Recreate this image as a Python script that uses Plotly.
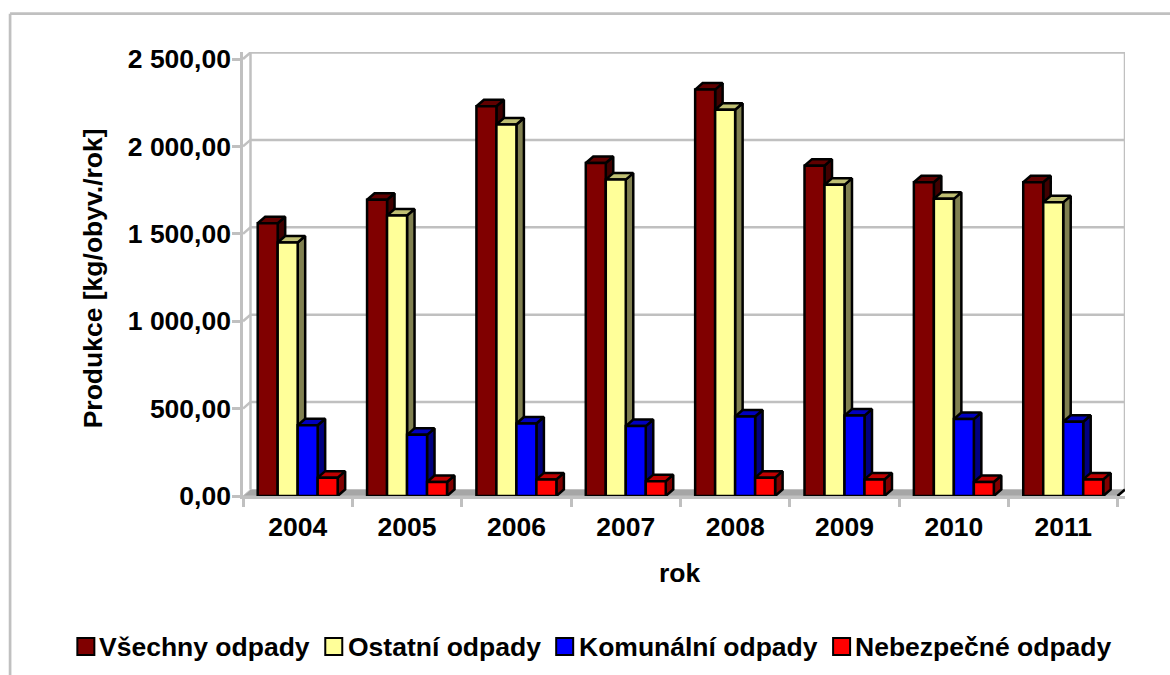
import plotly.graph_objects as go

years = ["2004", "2005", "2006", "2007", "2008", "2009", "2010", "2011"]
series_names = ["Všechny odpady", "Ostatní odpady", "Komunální odpady", "Nebezpečné odpady"]
vsechny = [1560, 1695, 2230, 1905, 2325, 1890, 1795, 1795]
ostatni = [1450, 1605, 2125, 1810, 2210, 1780, 1700, 1680]
komunalni = [405, 350, 415, 400, 455, 460, 440, 425]
nebezpecne = [105, 80, 95, 85, 105, 95, 80, 95]
y_ticks = [0, 500, 1000, 1500, 2000, 2500]
y_labels = ["0,00", "500,00", "1 000,00", "1 500,00", "2 000,00", "2 500,00"]
front_colors = ["#800000", "#FFFF99", "#0000FF", "#FF0000"]
side_colors = ["#400000", "#808050", "#000080", "#800000"]
top_colors = ["#600000", "#BFBF73", "#0000BF", "#BF0000"]

W, H = 1170, 675
L, R, T, B = 242.7, 1125.0, 52.0, 496.0
CAT_PX = 109.4
PX_PER_UNIT = 437.0 / 2500
DX_PX, DY_PX = 7.5, 6.5
BAR_PX = 20.0
FONT_SIZE = 26.5

x_lo = -0.5
x_hi = x_lo + (R - L) / CAT_PX
y_hi = (B - T) / PX_PER_UNIT
dx = DX_PX / CAT_PX
dy = DY_PX / PX_PER_UNIT
bw = BAR_PX / CAT_PX
GRAY = "#C0C0C0"
values = [vsechny, ostatni, komunalni, nebezpecne]


def px(v):
    return (v - L) / (R - L)


def py(v):
    return (B - v) / (B - T)


fig = go.Figure()

# Floor
fig.add_trace(go.Scatter(x=[x_lo, x_hi - dx, x_hi, x_lo + dx, x_lo], y=[0, 0, dy, dy, 0],
                         mode="lines", fill="toself", fillcolor="#A6A6A6",
                         line=dict(color=GRAY, width=1), hoverinfo="skip", showlegend=False))
# Walls and gridlines
for t in y_ticks[1:]:
    fig.add_trace(go.Scatter(x=[x_lo, x_lo + dx, x_hi], y=[t, t + dy, t + dy], mode="lines",
                             line=dict(color=GRAY, width=2.5), hoverinfo="skip", showlegend=False))
for xv in [x_lo + dx, x_hi]:
    fig.add_trace(go.Scatter(x=[xv, xv], y=[dy, y_ticks[-1] + dy], mode="lines",
                             line=dict(color=GRAY, width=2.5), hoverinfo="skip", showlegend=False))
fig.add_trace(go.Scatter(x=[x_hi - dx, x_hi], y=[0, dy], mode="lines",
                         line=dict(color="#000000", width=2.5), hoverinfo="skip", showlegend=False))

# Depth faces
for s, vals in enumerate(values):
    for i, v in enumerate(vals):
        x0 = i - 2 * bw + s * bw
        x1 = x0 + bw
        fig.add_trace(go.Scatter(x=[x1, x1 + dx, x1 + dx, x1, x1], y=[0, dy, v + dy, v, 0],
                                 mode="lines", fill="toself", fillcolor=side_colors[s],
                                 line=dict(color="#000000", width=2.5), hoverinfo="skip", showlegend=False))
        fig.add_trace(go.Scatter(x=[x0, x0 + dx, x1 + dx, x1, x0], y=[v, v + dy, v + dy, v, v],
                                 mode="lines", fill="toself", fillcolor=top_colors[s],
                                 line=dict(color="#000000", width=2.5), hoverinfo="skip", showlegend=False))

# Front faces
for s, vals in enumerate(values):
    fig.add_trace(go.Bar(x=years, y=vals, name=series_names[s], xaxis="x2", yaxis="y2",
                         marker=dict(color=front_colors[s], line=dict(color="#000000", width=2.5)),
                         showlegend=False))

# Legend
legend_swatch_x = [77, 325, 556, 804 + 29]
legend_text_x = [100, 349, 580, 856]
frame = dict(type="line", xref="paper", yref="paper", line=dict(color=GRAY, width=2.7), layer="below")
shapes = [
    dict(frame, x0=px(9.7), x1=px(9.7), y0=py(680), y1=py(13.7)),
    dict(frame, x0=px(9.7), x1=px(1175), y0=py(13.7), y1=py(13.7)),
]
annotations = []
for s, name in enumerate(series_names):
    shapes.append(dict(type="rect", xref="paper", yref="paper",
                       x0=px(legend_swatch_x[s]), x1=px(legend_swatch_x[s] + 17),
                       y0=py(655), y1=py(638),
                       fillcolor=front_colors[s], line=dict(color="#000000", width=2)))
    annotations.append(dict(text=name, xref="paper", yref="paper", showarrow=False,
                            x=px(legend_text_x[s] - 3), y=py(647),
                            xanchor="left", yanchor="middle",
                            font=dict(size=FONT_SIZE, color="#000000")))
annotations.append(dict(text="rok", xref="paper", yref="paper", showarrow=False,
                        x=px(680), y=py(573), xanchor="center", yanchor="middle",
                        font=dict(size=FONT_SIZE, color="#000000")))
annotations.append(dict(text="Produkce [kg/obyv./rok]", xref="paper", yref="paper", showarrow=False,
                        x=px(93), y=py(278), xanchor="center", yanchor="middle",
                        textangle=-90, font=dict(size=FONT_SIZE, color="#000000")))

fig.update_layout(
    width=W, height=H, autosize=False,
    margin=dict(l=L, r=W - R, t=T, b=H - B, pad=0),
    paper_bgcolor="#FFFFFF", plot_bgcolor="#FFFFFF",
    font=dict(family="Liberation Sans, Arial, sans-serif", size=FONT_SIZE, color="#000000", weight="bold"),
    barmode="group", bargap=29.4 / 109.4, bargroupgap=0,
    showlegend=False, shapes=shapes, annotations=annotations,
    xaxis=dict(type="linear", range=[x_lo, x_hi], tickmode="array",
               tickvals=[i - 0.5 for i in range(len(years) + 1)], showticklabels=False,
               ticks="outside", ticklen=10, tickwidth=2.5, tickcolor=GRAY, showgrid=False,
               zeroline=False, showline=False),
    yaxis=dict(range=[0, y_hi], tickmode="array", tickvals=y_ticks, ticktext=y_labels,
               ticks="outside", ticklen=8, tickwidth=2.5, tickcolor=GRAY, showgrid=False,
               zeroline=False, showline=True, linecolor=GRAY, linewidth=2.5,
               ticklabelstandoff=-4),
    xaxis2=dict(type="category", overlaying="x", categoryorder="array", categoryarray=years,
                range=[x_lo, x_hi], anchor="y2", side="bottom", showgrid=False, zeroline=False,
                showline=True, linecolor=GRAY, linewidth=2.5, ticks="", ticklabelstandoff=5,
                tickangle=0),
    yaxis2=dict(overlaying="y", range=[0, y_hi], anchor="x2", visible=False),
)

fig.write_html("out.html", config={"displayModeBar": False},
               post_script="document.body.style.margin='0';document.documentElement.style.overflow='hidden';")
